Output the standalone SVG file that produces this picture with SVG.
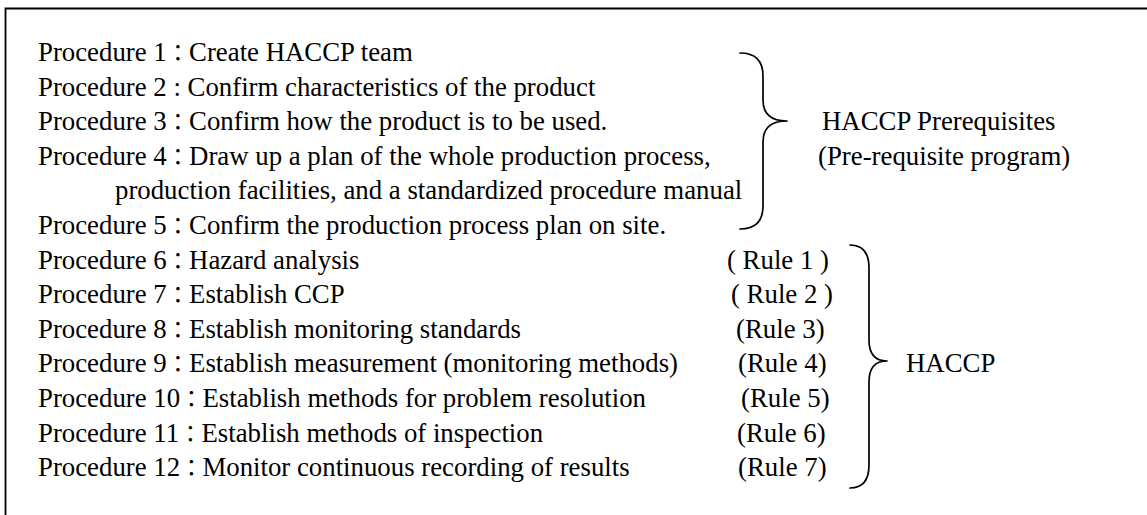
<svg xmlns="http://www.w3.org/2000/svg" width="1147" height="515" viewBox="0 0 1147 515">
  <style>
    .t { font-family: "Liberation Serif", "Times New Roman", serif; font-size: 26.8px; fill: #000; }
    .c { font-family: "Noto Sans CJK JP", "Noto Sans CJK SC", sans-serif; font-size: 22.3px; }
    .frame { fill: none; stroke: #000; stroke-width: 1.8; }
    .brace { fill: none; stroke: #000; stroke-width: 1.7; stroke-linecap: round; stroke-linejoin: round; }
  </style>
  <rect width="1147" height="515" fill="#fff"/>
  <!-- outer frame: only the top and left edges fall inside the page -->
  <path class="frame" d="M5.5,515 V8.5 H1147"/>

  <!-- procedure list -->
  <g id="proc1"><text class="t" x="38" y="61">Procedure 1<tspan class="c">：</tspan>Create HACCP team</text></g>
  <g id="proc2"><text class="t" x="38" y="95.6">Procedure 2 : Confirm characteristics of the product</text></g>
  <g id="proc3"><text class="t" x="38" y="130.2">Procedure 3<tspan class="c">：</tspan>Confirm how the product is to be used.</text></g>
  <g id="proc4"><text class="t" x="38" y="164.8">Procedure 4<tspan class="c">：</tspan>Draw up a plan of the whole production process,</text>
    <text class="t" x="115" y="199.4">production facilities, and a standardized procedure manual</text></g>
  <g id="proc5"><text class="t" x="38" y="234">Procedure 5<tspan class="c">：</tspan>Confirm the production process plan on site.</text></g>
  <g id="proc6"><text class="t" x="38" y="268.6">Procedure 6<tspan class="c">：</tspan>Hazard analysis</text></g>
  <g id="proc7"><text class="t" x="38" y="303.2">Procedure 7<tspan class="c">：</tspan>Establish CCP</text></g>
  <g id="proc8"><text class="t" x="38" y="337.8">Procedure 8<tspan class="c">：</tspan>Establish monitoring standards</text></g>
  <g id="proc9"><text class="t" x="38" y="372.4">Procedure 9<tspan class="c">：</tspan>Establish measurement (monitoring methods)</text></g>
  <g id="proc10"><text class="t" x="38" y="407">Procedure 10<tspan class="c">：</tspan>Establish methods for problem resolution</text></g>
  <g id="proc11"><text class="t" x="38" y="441.6">Procedure 11<tspan class="c">：</tspan>Establish methods of inspection</text></g>
  <g id="proc12"><text class="t" x="38" y="476.2">Procedure 12<tspan class="c">：</tspan>Monitor continuous recording of results</text></g>

  <!-- rule numbers -->
  <g id="rules">
    <text class="t" x="727" y="268.6">( Rule 1 )</text>
    <text class="t" x="731" y="303.2">( Rule 2 )</text>
    <text class="t" x="736" y="337.8">(Rule 3)</text>
    <text class="t" x="738" y="372.4">(Rule 4)</text>
    <text class="t" x="741" y="407">(Rule 5)</text>
    <text class="t" x="737" y="441.6">(Rule 6)</text>
    <text class="t" x="738" y="476.2">(Rule 7)</text>
  </g>

  <!-- group labels -->
  <g id="label-prereq">
    <text class="t" x="822" y="130.2">HACCP Prerequisites</text>
    <text class="t" x="818" y="164.8">(Pre-requisite program)</text>
  </g>
  <g id="label-haccp">
    <text class="t" x="906" y="372.4">HACCP</text>
  </g>

  <!-- braces -->
  <g id="connectors">
    <path class="brace" d="M740,53 Q763,53 763,76 V100 Q763,121 787,121 Q763,121 763,142 V206 Q763,229 740,229"/>
    <path class="brace" d="M850,245 Q869,245 869,268 V340 Q869,361 887,361 Q869,361 869,382 V465 Q869,488 850,488"/>
  </g>
</svg>
